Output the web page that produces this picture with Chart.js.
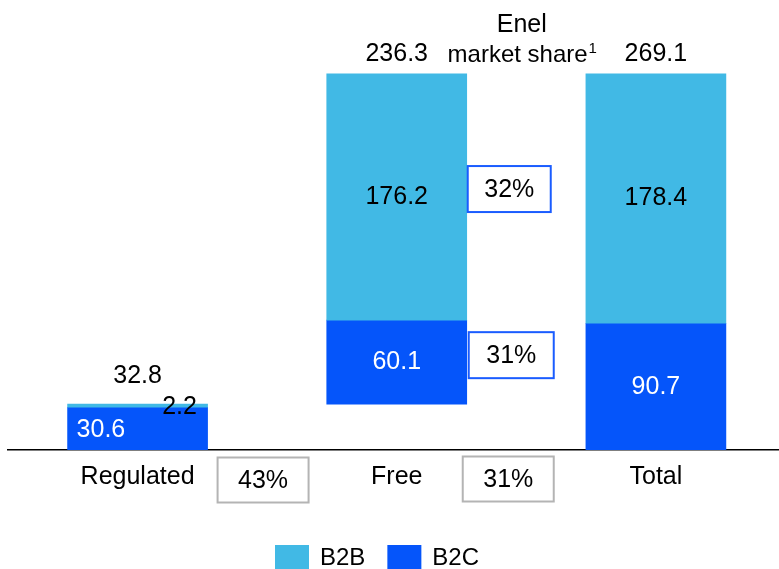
<!DOCTYPE html>
<html>
<head>
<meta charset="utf-8">
<script src="https://cdn.jsdelivr.net/npm/chart.js@4/dist/chart.umd.min.js"></script>
<style>
  html, body { margin: 0; padding: 0; background: #fff; overflow: hidden; }
  #wrap { width: 779px; height: 569px; position: relative; }
</style>
</head>
<body>
<div id="wrap"><canvas id="chart"></canvas></div>
<script>
// volumes by segment, TWh
const categories = ['Regulated', 'Free', 'Total']
const b2b = [2.2, 176.2, 178.4]
const b2c = [30.6, 60.1, 90.7]
const totals = [32.8, 236.3, 269.1]

// Enel market share, %
const shareByMarket = [43, 31]      // Regulated, Free
const shareFreeBySegment = [32, 31] // B2B, B2C

const B2B_COLOR = '#41b9e5'
const B2C_COLOR = '#0555fa'
const FONT = 'Arial, "Liberation Sans", sans-serif'

// the free bar floats on top of the regulated one (waterfall)
const bases = [0, totals[0], 0]

const b2cBars = categories.map((c, i) => ({ x: i, y: [bases[i], bases[i] + b2c[i]] }))
const b2bBars = categories.map((c, i) => ({ x: i, y: [bases[i] + b2c[i], bases[i] + b2c[i] + b2b[i]] }))

function text(ctx, str, x, y, color, align) {
  ctx.fillStyle = color || '#000'
  ctx.textAlign = align || 'center'
  ctx.textBaseline = 'middle'
  ctx.fillText(str, x, y)
}

function box(ctx, str, left, cy, w, h, stroke) {
  ctx.fillStyle = '#fff'
  ctx.fillRect(left, cy - h / 2, w, h)
  ctx.strokeStyle = stroke
  ctx.lineWidth = 2
  ctx.strokeRect(left, cy - h / 2, w, h)
  text(ctx, str, left + w / 2, cy + 1)
}

const labels = {
  id: 'labels',
  afterDatasetsDraw(chart) {
    const ctx = chart.ctx
    const top = chart.getDatasetMeta(0).data
    const bottom = chart.getDatasetMeta(1).data
    ctx.save()
    ctx.font = '25px ' + FONT

    categories.forEach((c, i) => {
      const hi = top[i], lo = bottom[i]
      const half = hi.width / 2
      if (i === 0) {
        text(ctx, b2c[i].toFixed(1), lo.x - half + 9, (lo.y + lo.base) / 2 + 1, '#fff', 'left')
        text(ctx, b2b[i].toFixed(1), hi.x + 42, hi.y + 3)
        text(ctx, totals[i].toFixed(1), hi.x, hi.y - 28)
      } else {
        text(ctx, b2b[i].toFixed(1), hi.x, (hi.y + hi.base) / 2)
        text(ctx, b2c[i].toFixed(1), lo.x, (lo.y + lo.base) / 2, '#fff')
        text(ctx, totals[i].toFixed(1), hi.x, hi.y - 20)
      }
    })

    // market share boxes next to the free bar
    const fHi = top[1], fLo = bottom[1]
    const right = fHi.x + fHi.width / 2
    box(ctx, shareFreeBySegment[0] + '%', right + 1, (fHi.y + fHi.base) / 2 - 8, 83, 46, '#1a5cff')
    box(ctx, shareFreeBySegment[1] + '%', right + 2, (fLo.y + fLo.base) / 2 - 7, 85, 46, '#1a5cff')

    // shares under the axis
    const axisY = chart.chartArea.bottom
    box(ctx, shareByMarket[0] + '%', top[0].x + top[0].width / 2 + 10, axisY + 30, 91, 45, '#b4b4b4')
    box(ctx, shareByMarket[1] + '%', right - 4, axisY + 29, 91, 45, '#b4b4b4')

    // header above the share column
    const hx = right + 55
    text(ctx, 'Enel', hx, 25)
    const head = 'market share'
    const w = ctx.measureText(head).width
    ctx.font = '15px ' + FONT
    const sup = ctx.measureText('1').width
    ctx.font = '24px ' + FONT
    const hw = ctx.measureText(head).width
    text(ctx, head, hx - (hw + sup) / 2, 55, '#000', 'left')
    ctx.font = '15px ' + FONT
    text(ctx, '1', hx - (hw + sup) / 2 + hw + 1, 49, '#000', 'left')

    // legend
    ctx.font = '24px ' + FONT
    let lx = 275
    chart.data.datasets.forEach(ds => {
      ctx.fillStyle = ds.backgroundColor
      ctx.fillRect(lx, 545, 34, 24)
      text(ctx, ds.label, lx + 45, 558, '#000', 'left')
      lx += 45 + ctx.measureText(ds.label).width + 22
    })
    ctx.restore()
  }
}

const chart = new Chart(document.getElementById('chart'), {
  type: 'bar',
  data: {
    datasets: [
      { label: 'B2B', data: b2bBars, backgroundColor: B2B_COLOR, barThickness: 140, borderWidth: 0 },
      { label: 'B2C', data: b2cBars, backgroundColor: B2C_COLOR, barThickness: 140, borderWidth: 0 }
    ]
  },
  options: {
    responsive: true,
    maintainAspectRatio: false,
    animation: false,
    layout: { padding: { left: 8, right: 0, top: 0, bottom: 0 } },
    plugins: {
      legend: { display: false },
      tooltip: { enabled: false }
    },
    scales: {
      x: {
        type: 'linear',
        offset: false,
        min: -0.5,
        max: 2.475,
        stacked: true,
        grid: { display: false, drawTicks: false },
        border: { color: '#000', width: 1.5 },
        afterBuildTicks: s => { s.ticks = categories.map((c, i) => ({ value: i })) },
        afterFit: s => { s.height = 119 },
        ticks: {
          padding: 12,
          color: '#000',
          maxRotation: 0,
          autoSkip: false,
          font: { family: FONT, size: 25 },
          callback: v => categories[v]
        }
      },
      y: {
        display: false,
        stacked: false,
        min: 0,
        max: 322
      }
    }
  },
  plugins: [labels]
})
</script>
</body>
</html>
